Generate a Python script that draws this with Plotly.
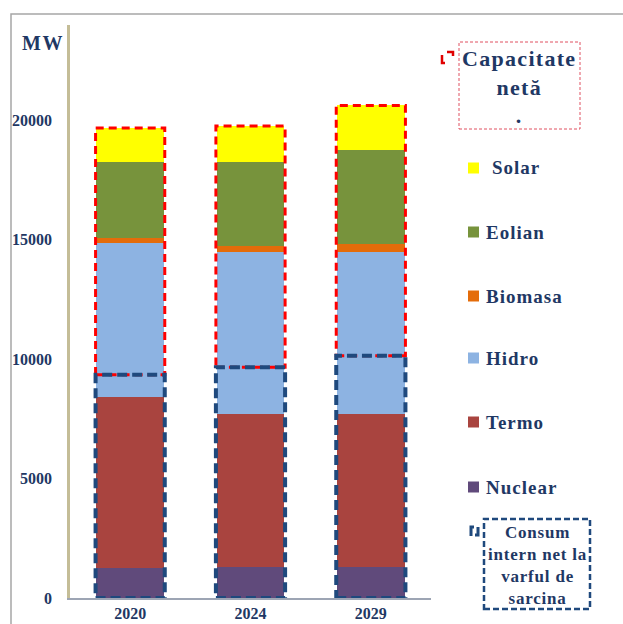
import plotly.graph_objects as go

# ---------------- data ----------------
years = ["2020", "2024", "2029"]
series_names = ["Nuclear", "Termo", "Hidro", "Biomasa", "Eolian", "Solar"]
nuclear = [1270, 1300, 1300]
termo = [7140, 6400, 6400]
hidro = [6480, 6790, 6800]
biomasa = [195, 265, 320]
eolian = [3180, 3490, 3960]
solar = [1420, 1520, 1850]
consum = [9350, 9660, 10150]
colors = ["#604A7B", "#A9443F", "#8DB3E2", "#E46C0A", "#77933C", "#FFFF00"]
y_ticks = [0, 5000, 10000, 15000, 20000]

values = [nuclear, termo, hidro, biomasa, eolian, solar]

W, H = 623, 624
ML, MR, MT, MB = 70, 192, 25, 26
PW, PH = W - ML - MR, H - MT - MB
TXT = "#1F3864"
FONT = "Liberation Serif"


def px(x):
    return (x - ML) / PW


def py(y):
    return (H - MB - y) / PH


def spaced(text, ls):
    return f"<span style='letter-spacing:{ls}px'>{text}</span>"


fig = go.Figure()
xs = list(range(len(years)))
bar_w = 0.56
for name, vals, col in zip(series_names, values, colors):
    fig.add_trace(go.Bar(x=xs, y=vals, name=name, marker=dict(color=col, line=dict(width=0)),
                         width=bar_w, showlegend=False, hoverinfo="y+name"))

shapes = []
# dashed boxes around bars (computed from the data)
box_w = bar_w + 0.015
for i in xs:
    total = sum(v[i] for v in values)
    shapes.append(dict(type="rect", xref="x", yref="y", x0=i - box_w / 2, x1=i + box_w / 2,
                       y0=consum[i], y1=total, line=dict(color="#FF0000", width=3, dash="8px,5px"),
                       fillcolor="rgba(0,0,0,0)", layer="above"))
for i in xs:
    shapes.append(dict(type="rect", xref="x", yref="y", x0=i - box_w / 2, x1=i + box_w / 2,
                       y0=0, y1=consum[i], line=dict(color="#1F497D", width=4, dash="10px,5px"),
                       fillcolor="rgba(0,0,0,0)", layer="above"))

# outer border of the chart
shapes.append(dict(type="path", xref="paper", yref="paper",
                   path=f"M {px(11)} {py(700)} L {px(11)} {py(14)} L {px(700)} {py(14)}",
                   line=dict(color="#A6A6A6", width=1.5)))

annotations = [dict(text=spaced("MW", 1.5), x=px(43), y=py(43), xref="paper", yref="paper", showarrow=False,
                    xanchor="center", yanchor="middle",
                    font=dict(family=FONT, size=20, color=TXT, weight="bold"))]

# legend: Capacitate neta box
shapes.append(dict(type="rect", xref="paper", yref="paper", x0=px(459), x1=px(580), y0=py(129), y1=py(42),
                   line=dict(color="#E05060", width=1, dash="3px,2px")))
shapes.append(dict(type="path", xref="paper", yref="paper",
                   path=f"M {px(442)} {py(55)} L {px(442)} {py(63)} L {px(445)} {py(63)} "
                        f"M {px(447)} {py(52)} L {px(453)} {py(52)} L {px(453)} {py(56)}",
                   line=dict(color="#E00000", width=2.5)))
annotations.append(dict(text="<br>".join(spaced(t, 1.3) for t in ["Capacitate", "netă", "."]),
                        x=px(519), y=py(87), xref="paper", yref="paper",
                        showarrow=False, xanchor="center", yanchor="middle",
                        font=dict(family=FONT, size=22, color=TXT, weight="bold")))

# legend items
leg_order = ["Solar", "Eolian", "Biomasa", "Hidro", "Termo", "Nuclear"]
leg_y = [168, 232, 296, 358, 422, 487]
for name, yy in zip(leg_order, leg_y):
    col = colors[series_names.index(name)]
    shapes.append(dict(type="rect", xref="paper", yref="paper", x0=px(468), x1=px(479),
                       y0=py(yy + 5.5), y1=py(yy - 5.5), fillcolor=col, line=dict(width=0)))
    x_txt = 490 if name == "Solar" else 484
    annotations.append(dict(text=spaced(name, 1.0), x=px(x_txt), y=py(yy), xref="paper", yref="paper",
                            showarrow=False, xanchor="left", yanchor="middle",
                            font=dict(family=FONT, size=19, color=TXT, weight="bold")))

# legend: Consum box
shapes.append(dict(type="rect", xref="paper", yref="paper", x0=px(484), x1=px(590), y0=py(609), y1=py(519),
                   line=dict(color="#1F497D", width=2.5, dash="6px,3px")))
shapes.append(dict(type="path", xref="paper", yref="paper",
                   path=f"M {px(471)} {py(536)} L {px(471)} {py(527)} L {px(474)} {py(527)} "
                        f"M {px(478)} {py(527)} L {px(478)} {py(535)} L {px(475)} {py(535)}",
                   line=dict(color="#1F497D", width=3)))
annotations.append(dict(text="<br>".join(spaced(t, 0.8) for t in ["Consum", "intern net la", "varful de", "sarcina"]),
                        x=px(537), y=py(565),
                        xref="paper", yref="paper", showarrow=False, xanchor="center", yanchor="middle",
                        font=dict(family=FONT, size=17, color=TXT, weight="bold")))

fig.update_layout(
    width=W, height=H,
    autosize=False,
    margin=dict(l=ML, r=MR, t=MT, b=MB, autoexpand=False),
    barmode="stack",
    paper_bgcolor="white", plot_bgcolor="white",
    showlegend=False,
    shapes=shapes,
    annotations=annotations,
    xaxis=dict(range=[-0.5, 2.5], tickvals=xs, ticktext=years, showgrid=False, zeroline=False,
               showline=True, linecolor="#9DA5B4", linewidth=1.5, ticks="", automargin=False,
               tickfont=dict(family=FONT, size=16, color=TXT, weight="bold")),
    yaxis=dict(range=[0, 24000], tickvals=y_ticks, ticktext=[str(v) for v in y_ticks],
               showgrid=False, zeroline=False, showline=True, linecolor="#C4BD97", linewidth=2.5,
               ticks="", ticklabelstandoff=12, automargin=False,
               tickfont=dict(family=FONT, size=16, color=TXT, weight="bold")),
)

post = ("document.body.style.margin='0';document.body.style.padding='0';"
        "document.documentElement.style.overflow='hidden';document.body.style.overflow='hidden';")
fig.write_html("out.html", config={"responsive": False, "displayModeBar": False}, post_script=post)
